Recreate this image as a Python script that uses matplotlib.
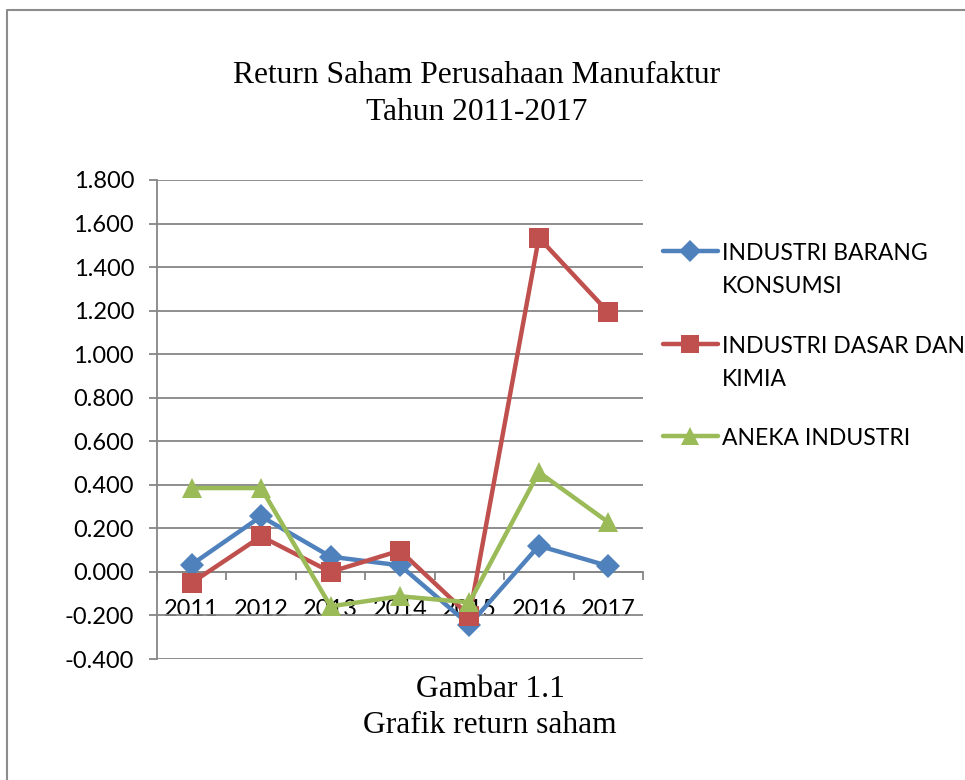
import matplotlib
matplotlib.use("Agg")
import matplotlib.pyplot as plt
from matplotlib.lines import Line2D
import numpy as np

years = ["2011", "2012", "2013", "2014", "2015", "2016", "2017"]
barang_konsumsi = [0.034, 0.255, 0.070, 0.030, -0.243, 0.120, 0.027]
dasar_kimia = [-0.050, 0.163, 0.000, 0.098, -0.202, 1.535, 1.193]
aneka_industri = [0.385, 0.385, -0.158, -0.112, -0.140, 0.458, 0.228]
series_names = ["INDUSTRI BARANG\nKONSUMSI", "INDUSTRI DASAR DAN\nKIMIA", "ANEKA INDUSTRI"]
y_ticks = [-0.4, -0.2, 0.0, 0.2, 0.4, 0.6, 0.8, 1.0, 1.2, 1.4, 1.6, 1.8]

colors = ["#4F81BD", "#C0504D", "#9BBB59"]
markers = ["D", "s", "^"]
msizes = [12.5, 14, 14]
grid_c = "#868686"
W, H = 965, 780

fig = plt.figure(figsize=(W / 100, H / 100), dpi=100)
fig.patch.set_facecolor("white")

def fx(px):
    return px / W

def fy(py):
    return 1 - py / H

ax = fig.add_axes([fx(157), fy(659), fx(643) - fx(157), fy(180) - fy(659)])
x = np.arange(len(years))
for vals, c, m, ms in zip([barang_konsumsi, dasar_kimia, aneka_industri], colors, markers, msizes):
    ax.plot(x, vals, color=c, lw=3.2, marker=m, markersize=ms, markeredgewidth=0, zorder=3)

ax.set_xlim(-0.5, len(years) - 0.5)
ax.set_ylim(-0.4, 1.8)
ax.set_yticks(y_ticks)
ax.set_yticklabels([f"{v:.3f}" for v in y_ticks])
ax.yaxis.grid(True, color=grid_c, lw=1.3)
ax.set_axisbelow(True)

for s in ["top", "right"]:
    ax.spines[s].set_visible(False)
ax.spines["left"].set_color(grid_c)
ax.spines["left"].set_linewidth(1.3)
ax.spines["bottom"].set_position(("data", 0))
ax.spines["bottom"].set_color(grid_c)
ax.spines["bottom"].set_linewidth(1.3)

tick_font = "Lato"
ax.set_xticks(x)
ax.set_xticklabels(years)
ax.set_xticks(np.arange(-0.5, len(years), 1.0), minor=True)
ax.tick_params(axis="x", which="major", length=0, pad=19.5, labelsize=17)
ax.tick_params(axis="x", which="minor", length=6, width=1.3, color=grid_c, direction="out")
ax.tick_params(axis="y", length=6, width=1.3, color=grid_c, pad=10.5, labelsize=17)
for lab in ax.get_xticklabels() + ax.get_yticklabels():
    lab.set_fontfamily(tick_font)
    lab.set_color("black")

# Title and caption
serif = "Liberation Serif"
fig.text(fx(477), fy(83), "Return Saham Perusahaan Manufaktur", ha="center", va="baseline",
         fontsize=22.7, family=serif)
fig.text(fx(477), fy(120.5), "Tahun 2011-2017", ha="center", va="baseline",
         fontsize=22.7, family=serif)
fig.text(fx(490), fy(697), "Gambar 1.1", ha="center", va="baseline",
         fontsize=22.7, family=serif)
fig.text(fx(490), fy(733), "Grafik return saham", ha="center", va="baseline",
         fontsize=22.7, family=serif)

# Legend (manual, first text line aligned with handle)
leg_y = [251, 344, 436]
for name, c, m, ms, yy in zip(series_names, colors, markers, msizes, leg_y):
    fig.add_artist(Line2D([fx(663), fx(718)], [fy(yy), fy(yy)], transform=fig.transFigure,
                          color=c, lw=3.2, solid_capstyle="round"))
    fig.add_artist(Line2D([fx(690)], [fy(yy)], transform=fig.transFigure,
                          color=c, marker=m, markersize=ms - 1.5, markeredgewidth=0, lw=0))
    for k, line in enumerate(name.split("\n")):
        fig.text(fx(722), fy(yy + 9 + 33 * k), line, ha="left", va="baseline",
                 fontsize=16.5, family=tick_font)

# outer frame
fig.add_artist(Line2D([fx(6.5), fx(6.5), fx(965)], [fy(780), fy(9.5), fy(9.5)],
                      transform=fig.transFigure, color="#8c8c8c", lw=1.5))

fig.savefig("out.png", dpi=100, facecolor="white")
